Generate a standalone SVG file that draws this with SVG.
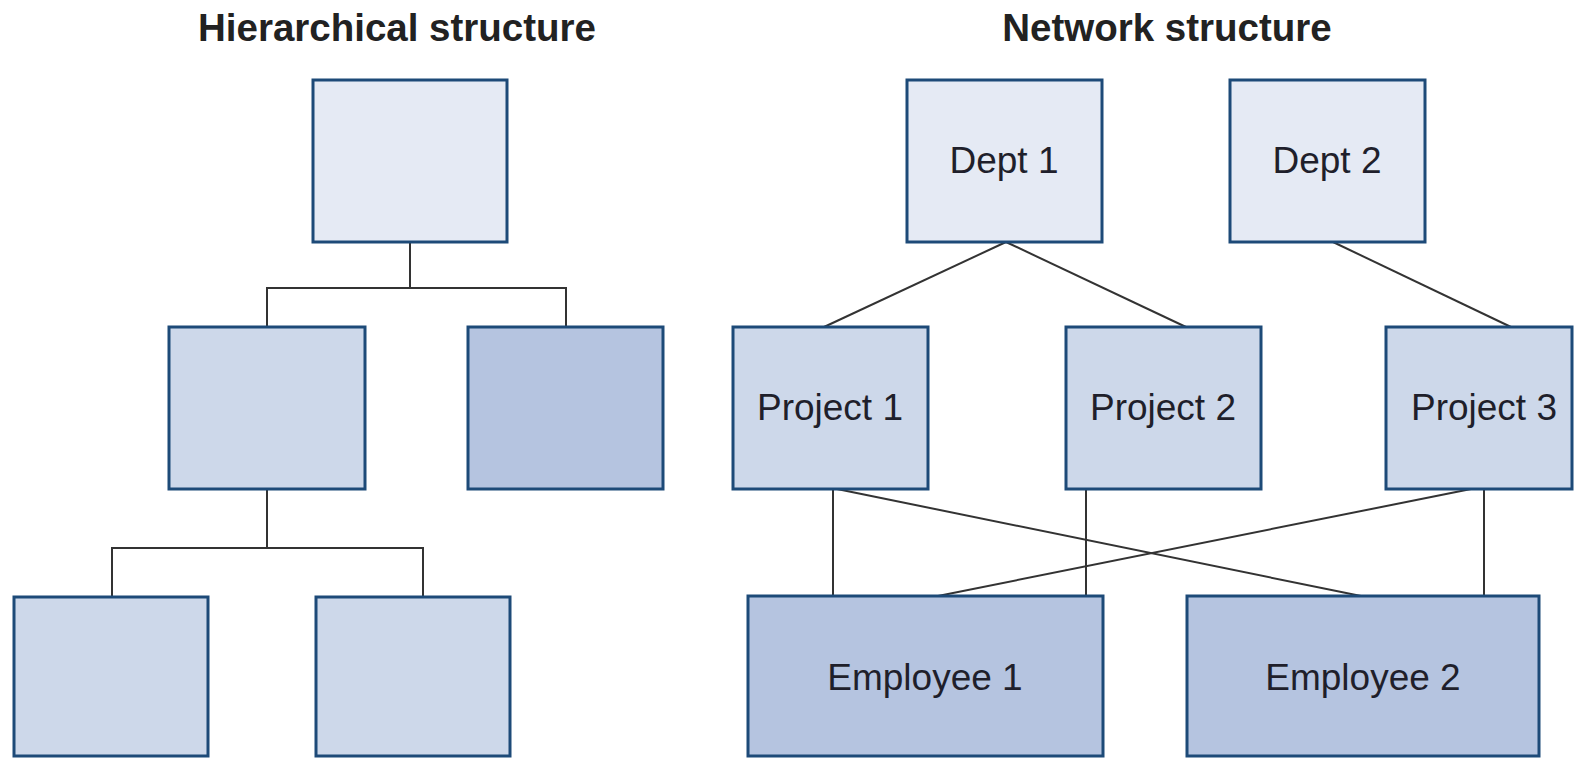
<svg xmlns="http://www.w3.org/2000/svg" width="1575" height="759" viewBox="0 0 1575 759">
<style>
.box{stroke:#1d4a78;stroke-width:3}
.l1{fill:#e5eaf4}
.l2{fill:#cdd8ea}
.l3{fill:#b5c4e0}
.lbl{font-family:"Liberation Sans",Arial,sans-serif;font-size:37px;fill:#1f1f2b;text-anchor:middle}
.title{font-family:"Liberation Sans",Arial,sans-serif;font-size:38.5px;font-weight:bold;fill:#222;text-anchor:middle}
.conn line,.conn polyline{stroke:#333;stroke-width:2;fill:none}
</style>
<rect width="1575" height="759" fill="#fff"/>
<text class="title" x="397" y="41">Hierarchical structure</text>
<text class="title" x="1167" y="41">Network structure</text>
<g class="conn" id="connectors">
<polyline points="410,242 410,288"/>
<polyline points="267,327 267,288 566,288 566,327"/>
<polyline points="267,489 267,548"/>
<polyline points="112,597 112,548 423,548 423,597"/>
<line x1="1006" y1="242" x2="824" y2="327"/>
<line x1="1006" y1="242" x2="1186" y2="327"/>
<line x1="1333" y1="242" x2="1511" y2="327"/>
<line x1="833" y1="489" x2="833" y2="596"/>
<line x1="837" y1="489" x2="1361" y2="596"/>
<line x1="1086" y1="489" x2="1086" y2="596"/>
<line x1="1471" y1="489" x2="938" y2="596"/>
<line x1="1484" y1="489" x2="1484" y2="596"/>
</g>
<g id="h-top"><rect class="box l1" x="313" y="80" width="194" height="162"/></g>
<g id="h-mid-left"><rect class="box l2" x="169" y="327" width="196" height="162"/></g>
<g id="h-mid-right"><rect class="box l3" x="468" y="327" width="195" height="162"/></g>
<g id="h-bottom-left"><rect class="box l2" x="14" y="597" width="194" height="159"/></g>
<g id="h-bottom-right"><rect class="box l2" x="316" y="597" width="194" height="159"/></g>
<g id="dept1"><rect class="box l1" x="907" y="80" width="195" height="162"/><text class="lbl" x="1004" y="173">Dept 1</text></g>
<g id="dept2"><rect class="box l1" x="1230" y="80" width="195" height="162"/><text class="lbl" x="1327" y="173">Dept 2</text></g>
<g id="project1"><rect class="box l2" x="733" y="327" width="195" height="162"/><text class="lbl" x="830" y="420">Project 1</text></g>
<g id="project2"><rect class="box l2" x="1066" y="327" width="195" height="162"/><text class="lbl" x="1163" y="420">Project 2</text></g>
<g id="project3"><rect class="box l2" x="1386" y="327" width="186" height="162"/><text class="lbl" x="1484" y="420">Project 3</text></g>
<g id="employee1"><rect class="box l3" x="748" y="596" width="355" height="160"/><text class="lbl" x="925" y="690">Employee 1</text></g>
<g id="employee2"><rect class="box l3" x="1187" y="596" width="352" height="160"/><text class="lbl" x="1363" y="690">Employee 2</text></g>
</svg>
